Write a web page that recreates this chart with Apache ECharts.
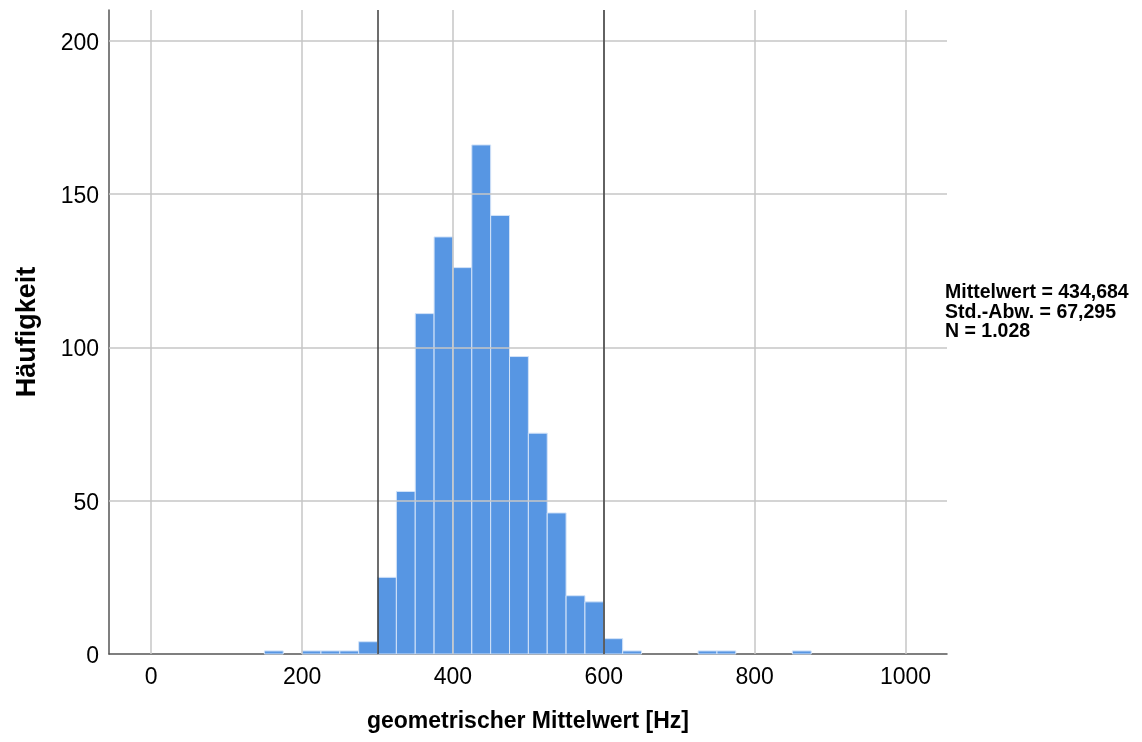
<!DOCTYPE html>
<html>
<head>
<meta charset="utf-8">
<script src="https://cdn.jsdelivr.net/npm/echarts@6/dist/echarts.min.js"></script>
<style>
  html, body { margin: 0; padding: 0; background: #fff; }
  #chart { width: 1142px; height: 742px; }
</style>
</head>
<body>
<div id="chart"></div>
<script>
// Histogram of geometric mean frequency: lower bin edges (Hz) and counts per bin
const binWidth = 25;
const binLower = [150, 200, 225, 250, 275, 300, 325, 350, 375, 400, 425, 450, 475, 500, 525, 550, 575, 600, 625, 725, 750, 850];
const counts   = [1,   1,   1,   1,   4,   25,  53,  111, 136, 126, 166, 143, 97,  72,  46,  19,  17,  5,   1,   1,   1,   1];

// Axis ticks and reference lines
const xTicks = [0, 200, 400, 600, 800, 1000];
const yTicks = [0, 50, 100, 150, 200];
const refLines = [300, 600];

// Summary statistics shown to the right of the plot
const statLines = ['Mittelwert = 434,684', 'Std.-Abw. = 67,295', 'N = 1.028'];

const bins = binLower.map((lo, i) => [lo, lo + binWidth, counts[i]]);

const chart = echarts.init(document.getElementById('chart'), null, { renderer: 'canvas' });

const font = '"Liberation Sans", Arial, sans-serif';

chart.setOption({
  animation: false,
  backgroundColor: '#ffffff',
  grid: { left: 109, right: 195, top: 10, bottom: 88 },
  xAxis: {
    type: 'value',
    min: -56,
    max: 1055,
    name: 'geometrischer Mittelwert [Hz]',
    nameLocation: 'middle',
    nameGap: 56,
    nameTextStyle: { fontFamily: font, fontSize: 23, color: '#000', fontWeight: 'bold' },
    axisLine: { show: true, onZero: false, lineStyle: { color: '#555', width: 1.5 } },
    axisTick: { show: false },
    splitLine: { show: false },
    axisLabel: {
      customValues: xTicks,
      formatter: v => String(v),
      fontFamily: font, fontSize: 23, color: '#000', margin: 12
    }
  },
  yAxis: {
    type: 'value',
    min: 0,
    max: 210,
    name: 'Häufigkeit',
    nameLocation: 'middle',
    nameGap: 68,
    nameTextStyle: { fontFamily: font, fontSize: 27, fontWeight: 'bold', color: '#000' },
    axisLine: { show: true, onZero: false, lineStyle: { color: '#555', width: 1.5 } },
    axisTick: { show: false },
    splitLine: { show: false },
    axisLabel: {
      customValues: yTicks,
      formatter: v => String(v),
      fontFamily: font, fontSize: 23, color: '#000', margin: 10,
      verticalAlign: 'top',
      padding: [-9, 0, 0, 0]
    }
  },
  graphic: [{
    type: 'text',
    left: 945,
    top: 283,
    style: {
      text: statLines.join('\n'),
      font: 'bold 19.5px "Liberation Sans", Arial, sans-serif',
      lineHeight: 19.5,
      fill: '#000'
    }
  }],
  series: [
    {
      // grid lines beneath the bars
      type: 'line',
      data: [],
      z: 1,
      silent: true,
      markLine: {
        silent: true,
        symbol: 'none',
        label: { show: false },
        lineStyle: { color: '#c6c6c6', width: 1.5, type: 'solid' },
        data: xTicks.map(v => ({ xAxis: v })).concat(yTicks.filter(v => v > 0).map(v => ({ yAxis: v })))
      }
    },
    {
      type: 'custom',
      z: 2,
      data: bins,
      encode: { x: [0, 1], y: 2 },
      renderItem: function (params, api) {
        const p0 = api.coord([api.value(0), 0]);
        const p1 = api.coord([api.value(1), api.value(2)]);
        return {
          type: 'rect',
          shape: { x: p0[0], y: p1[1], width: p1[0] - p0[0], height: p0[1] - p1[1] },
          style: { fill: '#5796e3', stroke: '#d3e3f8', lineWidth: 1 }
        };
      }
    },
    {
      // reference lines drawn over the bars
      type: 'line',
      data: [],
      z: 3,
      silent: true,
      markLine: {
        silent: true,
        symbol: 'none',
        label: { show: false },
        lineStyle: { color: '#3c3c3c', width: 1.5, type: 'solid' },
        data: refLines.map(v => ({ xAxis: v }))
      }
    }
  ]
});
</script>
</body>
</html>
